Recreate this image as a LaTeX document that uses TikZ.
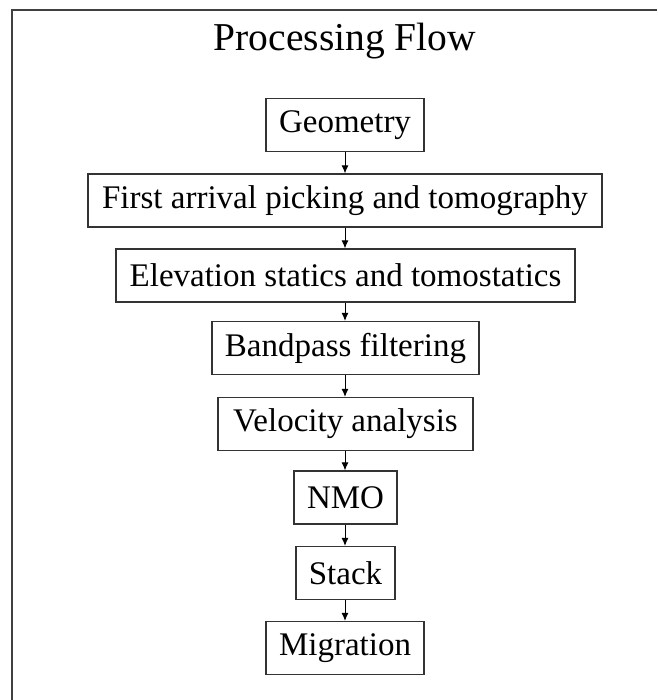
\documentclass[tikz,border=0pt]{standalone}
\usepackage{fontspec}
\setmainfont{Liberation Serif}
\usetikzlibrary{arrows.meta}
\begin{document}
\begin{tikzpicture}[x=1pt,y=1pt,
  stepbox/.style={draw=black!80, line width=1.2pt, inner sep=0pt, minimum height=53pt, font=\fontsize{33}{36}\selectfont, text=black},
  flowarrow/.style={draw=black, line width=1pt, -{Latex[length=8pt,width=7pt]}},
  frameline/.style={draw=black!75, line width=1.8pt}]
\useasboundingbox (0,0) rectangle (657,-700);
\coordinate (fbl) at (12,-700);
\coordinate (ftl) at (12,-10);
\coordinate (ftr) at (657,-10);
\draw[frameline] (fbl) -- (ftl) -- (ftr);
\node[anchor=base, font=\fontsize{39.5}{44}\selectfont] (title) at (345,-51) {Processing Flow};
\node[stepbox, minimum width=158pt] (geo) at (345,-125) {Geometry};
\node[stepbox, minimum width=514pt] (fap) at (345,-200.5) {First arrival picking and tomography};
\node[stepbox, minimum width=459pt] (elev) at (345.5,-275.5) {Elevation statics and tomostatics};
\node[stepbox, minimum width=267pt] (band) at (345.5,-348) {Bandpass filtering};
\node[stepbox, minimum width=255pt] (vel) at (345.5,-424) {Velocity analysis};
\node[stepbox, minimum width=103pt] (nmo) at (345.5,-497.5) {NMO};
\node[stepbox, minimum width=99pt] (stack) at (345.5,-573) {Stack};
\node[stepbox, minimum width=158pt] (mig) at (345,-648) {Migration};
\draw[flowarrow] (geo.south) -- (fap.north -| geo.south);
\draw[flowarrow] (fap.south -| geo.south) -- (elev.north -| geo.south);
\draw[flowarrow] (elev.south -| geo.south) -- (band.north -| geo.south);
\draw[flowarrow] (band.south -| geo.south) -- (vel.north -| geo.south);
\draw[flowarrow] (vel.south -| geo.south) -- (nmo.north -| geo.south);
\draw[flowarrow] (nmo.south -| geo.south) -- (stack.north -| geo.south);
\draw[flowarrow] (stack.south -| geo.south) -- (mig.north);
\end{tikzpicture}
\end{document}
